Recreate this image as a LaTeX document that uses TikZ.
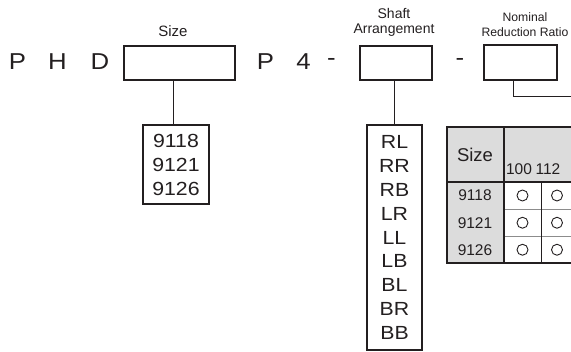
\documentclass[tikz,border=0pt]{standalone}
\usepackage{fontspec}
\setmainfont{Liberation Sans}
\newfontfamily\codefont{Liberation Sans}[FakeStretch=1.12]
\usepackage{xcolor}
\usetikzlibrary{positioning}
\definecolor{inkgray}{HTML}{231F20}
\definecolor{cellgray}{HTML}{DCDCDC}
\definecolor{rulegray}{HTML}{8C8C8C}
\tikzset{
  codeletter/.style={inner sep=0pt, text=inkgray, font=\codefont\fontsize{23}{27}\selectfont},
  codebox/.style={draw=inkgray, line width=2.2pt, fill=white},
  valbox/.style={draw=inkgray, line width=2.2pt, align=center, inner sep=0pt, text=inkgray},
  headlabel/.style={align=center, inner sep=0pt, text=inkgray},
  tap/.style={inkgray, line width=1pt},
  thickrule/.style={inkgray, line width=2pt},
  thinrule/.style={inkgray, line width=0.9pt},
  cellrule/.style={rulegray, line width=0.9pt},
  tablenum/.style={inner sep=0pt, text=inkgray, font=\fontsize{15.5}{18}\selectfont},
  ringmark/.style={inkgray, line width=0.9pt}
}

\begin{document}
\begin{tikzpicture}[x=1pt,y=-1pt]
  \useasboundingbox (0,0) rectangle (571,352);
  % model code letters
  \foreach \ch/\xx [count=\i] in {P/17.5,H/57.5,D/100,P/265.5,4/303.5,-/331.5,-/460}
    \node[codeletter] (letter\i) at (\xx,62) {\ch};
  \node[codebox, minimum width=111pt, minimum height=34pt] (sizebox) at (179.5,63) {};
  \node[codebox, minimum width=72pt, minimum height=34pt] (shaftbox) at (396,63) {};
  \node[codebox, minimum width=73pt, minimum height=35pt] (ratiobox) at (520.5,62.5) {};
  \node[headlabel, font=\fontsize{15}{16}\selectfont] (sizelabel) at (173,31) {Size};
  \node[headlabel, font=\fontsize{14}{15}\selectfont] (shaftlabel) at (394,22) {Shaft\\Arrangement};
  \node[headlabel, font=\fontsize{12.2}{15}\selectfont] (ratiolabel) at (525,24.5) {Nominal\\Reduction Ratio};
  % option lists
  \node[valbox, minimum width=66pt, minimum height=79pt, font=\codefont\fontsize{19}{24}\selectfont] (sizeval) at (176,164.5) {9118\\9121\\9126};
  \node[valbox, minimum width=55pt, minimum height=225pt, font=\codefont\fontsize{19}{23.9}\selectfont] (shaftval) at (394.5,237.5) {RL\\RR\\RB\\LR\\LL\\LB\\BL\\BR\\BB};
  \draw[tap] ([xshift=-3pt]sizeval.north) -- ([xshift=-3pt]sizeval.north |- sizebox.south);
  \draw[tap] (shaftval.north) -- (shaftval.north |- shaftbox.south);
  \coordinate (ratioend) at (572,97);
  \draw[tap] ([xshift=-7.5pt]ratiobox.south) |- (ratioend);
  % ratio table
  \fill[cellgray] (447,127) rectangle (575,182);
  \fill[cellgray] (447,182) rectangle (503.5,263);
  \fill[white] (503.5,182) rectangle (575,263);
  \foreach \yy in {209,236.5}
    \draw[cellrule] (503.5,\yy) -- (575,\yy);
  \draw[thinrule] (541,182) -- (541,263);
  \draw[thickrule] (575,127) -- (447,127) -- (447,263) -- (575,263);
  \draw[thickrule] (447,182) -- (575,182);
  \draw[thickrule] (503.5,127) -- (503.5,263);
  \node[tablenum, font=\fontsize{18.5}{20}\selectfont] (sizehead) at (475,155) {Size};
  \node[tablenum] (ratio100) at (519,169.5) {100};
  \node[tablenum] (ratio112) at (548,169.5) {112};
  \foreach \sz/\yy [count=\r] in {9118/195.5,9121/222.75,9126/249.75}{
    \node[tablenum] (row\r) at (475,\yy) {\sz};
    \draw[ringmark] (522.5,\yy) circle (5.5pt);
    \draw[ringmark] (557,\yy) circle (5.5pt);
  }
\end{tikzpicture}
\end{document}
